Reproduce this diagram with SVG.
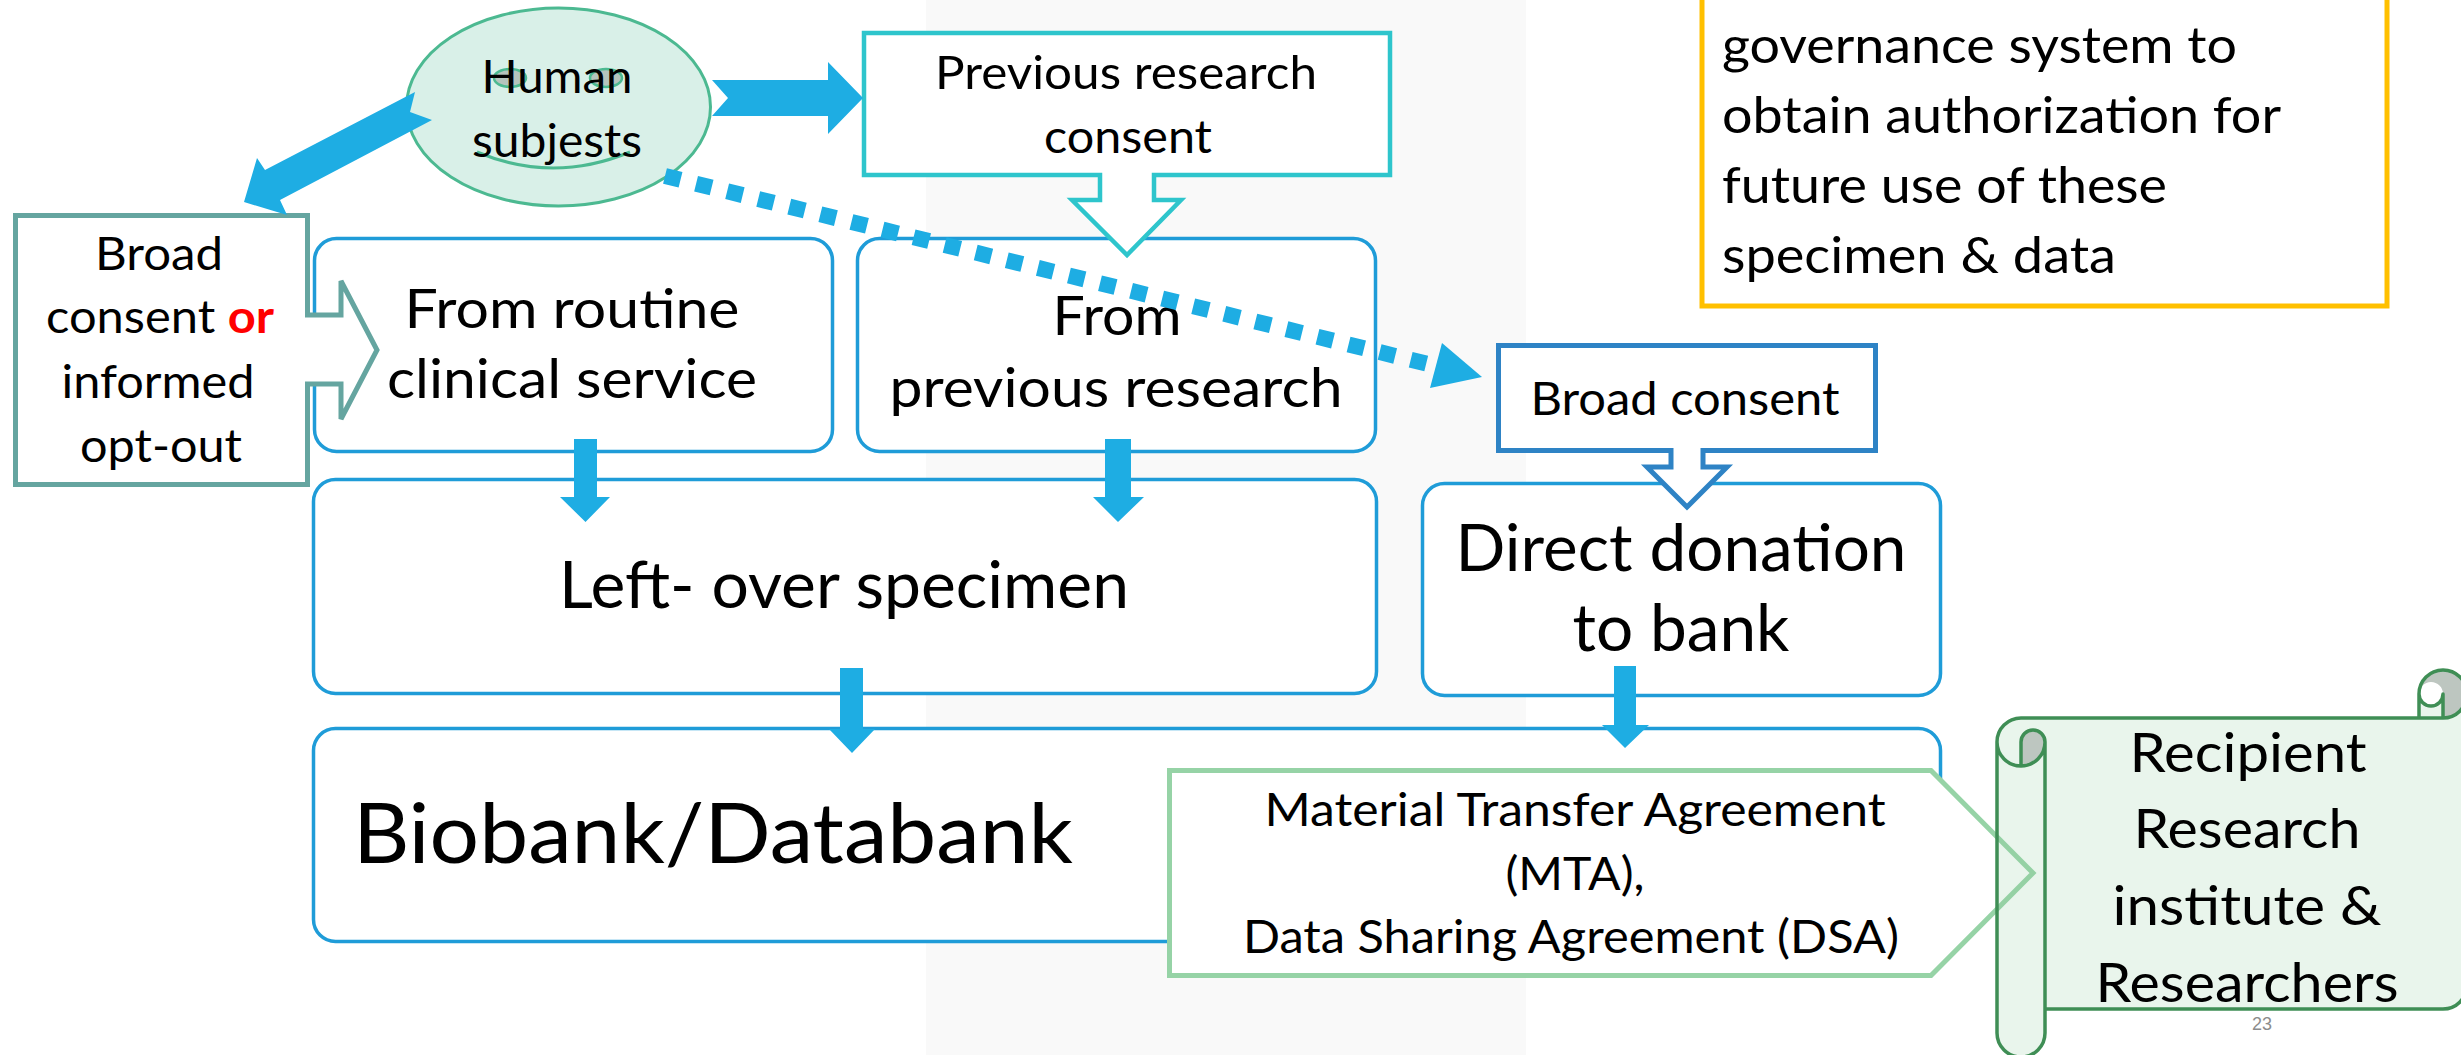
<svg xmlns="http://www.w3.org/2000/svg" width="2461" height="1055" viewBox="0 0 2461 1055">
  <defs>
    <style>
      .t { font-family: Lato, "Liberation Sans", sans-serif; fill: #000; text-anchor: middle; }
      .s46 { font-size: 46px; }
      .s47 { font-size: 47px; }
      .s51 { font-size: 51px; }
      .s55 { font-size: 55px; }
      .s65 { font-size: 65px; }
      .s83 { font-size: 83px; }
      .rbox { fill: #fff; stroke: #1f9cd8; stroke-width: 3.5; }
      .flow { fill: #1eade3; }
      .dark { fill: #bdc6c0; }
    </style>
  </defs>

  <!-- background -->
  <rect x="0" y="0" width="2461" height="1055" fill="#fff"/>
  <rect x="926" y="0" width="600" height="1055" fill="#f9f9f9"/>

  <!-- governance note -->
  <g id="governance-note">
    <rect x="1702" y="-6" width="685" height="312" fill="#fff" stroke="#ffc000" stroke-width="5"/>
    <text class="t s51" text-anchor="start" style="text-anchor:start" lengthAdjust="spacingAndGlyphs">
      <tspan x="1722" y="63" textLength="515" lengthAdjust="spacingAndGlyphs">governance system to</tspan>
    </text>
    <text class="t s51" style="text-anchor:start" x="1722" y="133" textLength="559" lengthAdjust="spacingAndGlyphs">obtain authorization for</text>
    <text class="t s51" style="text-anchor:start" x="1722" y="203" textLength="445" lengthAdjust="spacingAndGlyphs">future use of these</text>
    <text class="t s51" style="text-anchor:start" x="1722" y="273" textLength="394" lengthAdjust="spacingAndGlyphs">specimen &amp; data</text>
  </g>

  <!-- human subjects -->
  <g id="human-subjects">
    <ellipse cx="558.5" cy="107" rx="152" ry="99" fill="#d9f0e8" stroke="#4cb991" stroke-width="3"/>
    <ellipse cx="510" cy="78" rx="16" ry="9" fill="#b5c4bd" stroke="#4cb991" stroke-width="2.5"/>
    <ellipse cx="606" cy="78" rx="16" ry="9" fill="#b5c4bd" stroke="#4cb991" stroke-width="2.5"/>
    <path d="M477,152 Q553,184 630,152" fill="none" stroke="#4cb991" stroke-width="3"/>
    <text class="t s46" x="557" y="93" textLength="151" lengthAdjust="spacingAndGlyphs">Human</text>
    <text class="t s46" x="557" y="157" textLength="170" lengthAdjust="spacingAndGlyphs">subjests</text>
  </g>

  <!-- sources -->
  <g id="from-routine">
    <rect class="rbox" x="314.5" y="238.5" width="518" height="213" rx="22"/>
    <text class="t s55" x="572" y="328" textLength="335" lengthAdjust="spacingAndGlyphs">From routine</text>
    <text class="t s55" x="572" y="398" textLength="370" lengthAdjust="spacingAndGlyphs">clinical service</text>
  </g>
  <g id="from-previous">
    <rect class="rbox" x="857.5" y="238.5" width="518" height="213" rx="22"/>
    <text class="t s55" x="1117" y="335" textLength="129" lengthAdjust="spacingAndGlyphs">From</text>
    <text class="t s55" x="1116" y="407" textLength="453" lengthAdjust="spacingAndGlyphs">previous research</text>
  </g>
  <g id="left-over">
    <rect class="rbox" x="313.5" y="479.5" width="1063" height="214" rx="22"/>
    <text class="t s65" x="844" y="608" textLength="570" lengthAdjust="spacingAndGlyphs">Left- over specimen</text>
  </g>
  <g id="direct-donation">
    <rect class="rbox" x="1422.5" y="483.5" width="518" height="212" rx="22"/>
    <text class="t s65" x="1681" y="571" textLength="451" lengthAdjust="spacingAndGlyphs">Direct donation</text>
    <text class="t s65" x="1681" y="651" textLength="217" lengthAdjust="spacingAndGlyphs">to bank</text>
  </g>
  <g id="biobank">
    <rect class="rbox" x="313.5" y="728.5" width="1627" height="213" rx="22"/>
    <text class="t s83" style="text-anchor:start" x="353" y="863" textLength="720" lengthAdjust="spacingAndGlyphs">Biobank/Databank</text>
  </g>

  <!-- consent callouts -->
  <g id="broad-or-optout">
    <path d="M15.5,215.5 H307.5 V315 H341 V281 L377,350 L341,419 V384 H307.5 V484.5 H15.5 Z" fill="#fff" stroke="#65a5a0" stroke-width="5" stroke-linejoin="miter"/>
    <text class="t s46" x="159" y="270" textLength="128" lengthAdjust="spacingAndGlyphs">Broad</text>
    <text class="t s46" x="160" y="333" textLength="228" lengthAdjust="spacingAndGlyphs">consent <tspan fill="#ff0000" font-weight="bold">or</tspan></text>
    <text class="t s46" x="158" y="398" textLength="193" lengthAdjust="spacingAndGlyphs">informed</text>
    <text class="t s46" x="161" y="462" textLength="162" lengthAdjust="spacingAndGlyphs">opt-out</text>
  </g>
  <g id="previous-consent">
    <path d="M864,33 H1390 V175 H1154 V200 H1181 L1127,255 L1072,200 H1100 V175 H864 Z" fill="#fff" stroke="#2ec5cc" stroke-width="4.5"/>
    <text class="t s47" x="1126" y="89" textLength="382" lengthAdjust="spacingAndGlyphs">Previous research</text>
    <text class="t s47" x="1128" y="153" textLength="168" lengthAdjust="spacingAndGlyphs">consent</text>
  </g>
  <g id="broad-consent">
    <path d="M1498.5,345.5 H1875.5 V450.5 H1703 V467 H1727 L1687,507 L1647,467 H1671 V450.5 H1498.5 Z" fill="#fff" stroke="#2e83c5" stroke-width="5"/>
    <text class="t s46" x="1685" y="415" textLength="309" lengthAdjust="spacingAndGlyphs">Broad consent</text>
  </g>

  <!-- agreements -->
  <g id="agreements">
    <path d="M1169.5,770.5 H1931 L2033,873 L1931,975.5 H1169.5 Z" fill="#fff" stroke="#96d3a6" stroke-width="5"/>
    <text class="t s46" x="1575" y="826" textLength="621" lengthAdjust="spacingAndGlyphs">Material Transfer Agreement</text>
    <text class="t s46" x="1575" y="890" textLength="139" lengthAdjust="spacingAndGlyphs">(MTA),</text>
    <text class="t s46" x="1571" y="953" textLength="656" lengthAdjust="spacingAndGlyphs">Data Sharing Agreement (DSA)</text>
  </g>

  <!-- recipient scroll -->
  <g id="recipient">
    <path d="M2467,694 A24,24 0 0 1 2443,718 L2443,694 A12,12 0 0 1 2419,694 L2419,718 L2021,718 A24,24 0 0 0 1997,742 L1997,1033 A24,24 0 0 0 2045,1033 L2045,1009 L2443,1009 A24,24 0 0 0 2467,985 Z M2021,766 A24,24 0 0 0 2045,742 A12,12 0 0 0 2021,742 Z" fill="#92cf9f" fill-opacity="0.2"/>
    <path class="dark" d="M2021,766 A24,24 0 0 0 2045,742 A12,12 0 0 0 2021,742 Z M2443,718 A24,24 0 1 0 2419,694 A12,12 0 0 1 2443,694 Z"/>
    <path d="M1997,742 A24,24 0 0 1 2021,718 L2419,718 L2419,694 A24,24 0 0 1 2467,694 L2467,985 A24,24 0 0 1 2443,1009 L2045,1009 L2045,1033 A24,24 0 0 1 1997,1033 Z M2419,718 L2443,718 A24,24 0 0 0 2467,694 M2443,718 L2443,694 A12,12 0 0 1 2419,694 M2021,766 L2021,742 A12,12 0 0 1 2045,742 A24,24 0 0 1 1997,742 M2045,742 L2045,1009" fill="none" stroke="#3f8e55" stroke-width="3.5" stroke-linejoin="round"/>
    <text class="t s55" x="2248" y="772" textLength="237" lengthAdjust="spacingAndGlyphs">Recipient</text>
    <text class="t s55" x="2247" y="848" textLength="227" lengthAdjust="spacingAndGlyphs">Research</text>
    <text class="t s55" x="2247" y="925" textLength="269" lengthAdjust="spacingAndGlyphs">institute &amp;</text>
    <text class="t s55" x="2247" y="1002" textLength="303" lengthAdjust="spacingAndGlyphs">Researchers</text>
  </g>

  <!-- connectors -->
  <g id="connectors">
    <polygon class="flow" points="712,80 828,80 828,62 863,98 828,134 828,116 712,116 728,98"/>
    <polygon class="flow" points="415,92 265,170 257,158 244,202 287,215 280,200 432,120 410,112"/>
    <line x1="665" y1="176" x2="1436" y2="366" stroke="#1eade3" stroke-width="16" stroke-dasharray="16 16"/>
    <polygon class="flow" points="1442,343 1482,377 1430,388"/>
    <polygon class="flow" points="574,439 597,439 597,497 610,497 585.5,522 560,497 574,497"/>
    <polygon class="flow" points="1105,439 1131,439 1131,497 1144,497 1118,522 1093,497 1105,497"/>
    <polygon class="flow" points="840,668 863,668 863,729 875,729 852,753 829,729 840,729"/>
    <polygon class="flow" points="1614,666 1636,666 1636,725 1649,725 1625,748 1602,725 1614,725"/>
  </g>

  <text x="2262" y="1030" font-family="'Liberation Sans', Arial, sans-serif" font-size="18" fill="#8c8c8c" text-anchor="middle">23</text>
</svg>
